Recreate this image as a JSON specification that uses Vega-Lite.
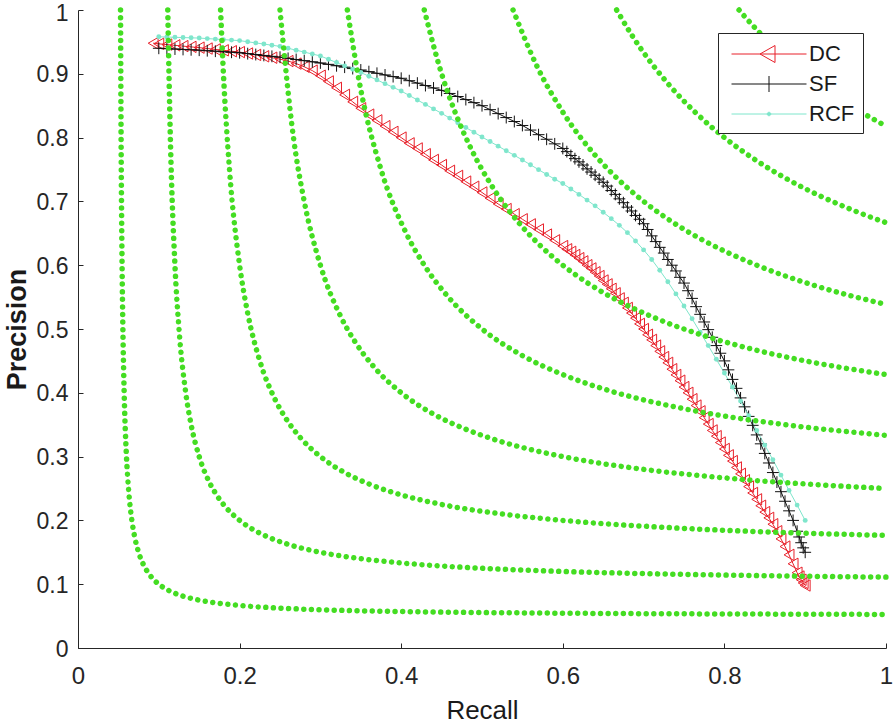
{
"$schema":"https://vega.github.io/schema/vega-lite/v6.json",
"width":808,"height":638,
"autosize":{"type":"none"},
"padding":{"left":78,"top":10,"right":7,"bottom":75},
"background":"white",
"config":{"view":{"stroke":null},"font":"Liberation Sans"},
"datasets":{
"pr":[
{"m":"DC","r":0.093,"p":0.948},{"m":"DC","r":0.10,"p":0.947},{"m":"DC","r":0.11,"p":0.9458},{"m":"DC","r":0.12,"p":0.9446},{"m":"DC","r":0.13,"p":0.9434},{"m":"DC","r":0.14,"p":0.9422},
{"m":"DC","r":0.15,"p":0.941},{"m":"DC","r":0.16,"p":0.9396},{"m":"DC","r":0.17,"p":0.9382},{"m":"DC","r":0.18,"p":0.9368},{"m":"DC","r":0.19,"p":0.9354},
{"m":"DC","r":0.20,"p":0.934},{"m":"DC","r":0.21,"p":0.9318},{"m":"DC","r":0.22,"p":0.9296},{"m":"DC","r":0.23,"p":0.9274},{"m":"DC","r":0.24,"p":0.9252},
{"m":"DC","r":0.25,"p":0.923},{"m":"DC","r":0.26,"p":0.92},{"m":"DC","r":0.27,"p":0.916},{"m":"DC","r":0.28,"p":0.911},{"m":"DC","r":0.29,"p":0.905},
{"m":"DC","r":0.30,"p":0.897},{"m":"DC","r":0.31,"p":0.888},{"m":"DC","r":0.32,"p":0.878},{"m":"DC","r":0.33,"p":0.867},{"m":"DC","r":0.34,"p":0.856},
{"m":"DC","r":0.35,"p":0.846},{"m":"DC","r":0.36,"p":0.836},{"m":"DC","r":0.37,"p":0.827},{"m":"DC","r":0.38,"p":0.818},{"m":"DC","r":0.39,"p":0.809},
{"m":"DC","r":0.40,"p":0.8},{"m":"DC","r":0.41,"p":0.791},{"m":"DC","r":0.42,"p":0.783},{"m":"DC","r":0.43,"p":0.774},{"m":"DC","r":0.44,"p":0.765},
{"m":"DC","r":0.45,"p":0.757},{"m":"DC","r":0.46,"p":0.748},{"m":"DC","r":0.47,"p":0.74},{"m":"DC","r":0.48,"p":0.731},{"m":"DC","r":0.49,"p":0.723},
{"m":"DC","r":0.50,"p":0.714},{"m":"DC","r":0.51,"p":0.705},{"m":"DC","r":0.52,"p":0.696},{"m":"DC","r":0.53,"p":0.688},{"m":"DC","r":0.54,"p":0.68},
{"m":"DC","r":0.55,"p":0.672},{"m":"DC","r":0.56,"p":0.664},{"m":"DC","r":0.57,"p":0.656},{"m":"DC","r":0.58,"p":0.648},{"m":"DC","r":0.59,"p":0.639},
{"m":"DC","r":0.60,"p":0.63},{"m":"DC","r":0.605,"p":0.625},{"m":"DC","r":0.61,"p":0.621},{"m":"DC","r":0.615,"p":0.616},{"m":"DC","r":0.62,"p":0.611},{"m":"DC","r":0.625,"p":0.606},{"m":"DC","r":0.63,"p":0.6},{"m":"DC","r":0.635,"p":0.595},{"m":"DC","r":0.64,"p":0.589},{"m":"DC","r":0.645,"p":0.583},{"m":"DC","r":0.65,"p":0.576},
{"m":"DC","r":0.655,"p":0.57},{"m":"DC","r":0.66,"p":0.563},{"m":"DC","r":0.665,"p":0.556},{"m":"DC","r":0.67,"p":0.548},{"m":"DC","r":0.675,"p":0.541},{"m":"DC","r":0.68,"p":0.533},{"m":"DC","r":0.685,"p":0.525},{"m":"DC","r":0.69,"p":0.517},{"m":"DC","r":0.695,"p":0.508},{"m":"DC","r":0.70,"p":0.5},
{"m":"DC","r":0.705,"p":0.491},{"m":"DC","r":0.71,"p":0.483},{"m":"DC","r":0.715,"p":0.474},{"m":"DC","r":0.72,"p":0.465},{"m":"DC","r":0.725,"p":0.456},{"m":"DC","r":0.73,"p":0.447},{"m":"DC","r":0.735,"p":0.437},{"m":"DC","r":0.74,"p":0.428},{"m":"DC","r":0.745,"p":0.419},{"m":"DC","r":0.75,"p":0.409},
{"m":"DC","r":0.755,"p":0.4},{"m":"DC","r":0.76,"p":0.39},{"m":"DC","r":0.765,"p":0.38},{"m":"DC","r":0.77,"p":0.371},{"m":"DC","r":0.775,"p":0.361},{"m":"DC","r":0.78,"p":0.351},{"m":"DC","r":0.785,"p":0.341},{"m":"DC","r":0.79,"p":0.332},{"m":"DC","r":0.795,"p":0.322},{"m":"DC","r":0.80,"p":0.312},
{"m":"DC","r":0.805,"p":0.302},{"m":"DC","r":0.81,"p":0.293},{"m":"DC","r":0.815,"p":0.283},{"m":"DC","r":0.82,"p":0.273},{"m":"DC","r":0.825,"p":0.263},{"m":"DC","r":0.83,"p":0.253},{"m":"DC","r":0.835,"p":0.243},{"m":"DC","r":0.84,"p":0.233},{"m":"DC","r":0.845,"p":0.223},{"m":"DC","r":0.85,"p":0.213},
{"m":"DC","r":0.855,"p":0.204},{"m":"DC","r":0.86,"p":0.194},{"m":"DC","r":0.865,"p":0.183},{"m":"DC","r":0.87,"p":0.171},{"m":"DC","r":0.875,"p":0.159},{"m":"DC","r":0.88,"p":0.146},{"m":"DC","r":0.885,"p":0.132},{"m":"DC","r":0.89,"p":0.118},{"m":"DC","r":0.8925,"p":0.112},{"m":"DC","r":0.895,"p":0.107},{"m":"DC","r":0.8975,"p":0.102},{"m":"DC","r":0.90,"p":0.098},
{"m":"SF","r":0.10,"p":0.94},{"m":"SF","r":0.11,"p":0.9394},{"m":"SF","r":0.12,"p":0.9388},{"m":"SF","r":0.13,"p":0.9382},{"m":"SF","r":0.14,"p":0.9376},
{"m":"SF","r":0.15,"p":0.937},{"m":"SF","r":0.16,"p":0.9362},{"m":"SF","r":0.17,"p":0.9354},{"m":"SF","r":0.18,"p":0.9346},{"m":"SF","r":0.19,"p":0.9338},
{"m":"SF","r":0.20,"p":0.933},{"m":"SF","r":0.21,"p":0.9316},{"m":"SF","r":0.22,"p":0.9302},{"m":"SF","r":0.23,"p":0.9288},{"m":"SF","r":0.24,"p":0.9274},
{"m":"SF","r":0.25,"p":0.926},{"m":"SF","r":0.26,"p":0.9242},{"m":"SF","r":0.27,"p":0.9224},{"m":"SF","r":0.28,"p":0.9206},{"m":"SF","r":0.29,"p":0.9188},
{"m":"SF","r":0.30,"p":0.917},{"m":"SF","r":0.31,"p":0.9148},{"m":"SF","r":0.32,"p":0.9126},{"m":"SF","r":0.33,"p":0.9104},{"m":"SF","r":0.34,"p":0.9082},
{"m":"SF","r":0.35,"p":0.906},{"m":"SF","r":0.36,"p":0.9034},{"m":"SF","r":0.37,"p":0.9008},{"m":"SF","r":0.38,"p":0.8982},{"m":"SF","r":0.39,"p":0.8956},
{"m":"SF","r":0.40,"p":0.893},{"m":"SF","r":0.41,"p":0.8892},{"m":"SF","r":0.42,"p":0.8854},{"m":"SF","r":0.43,"p":0.8816},{"m":"SF","r":0.44,"p":0.8778},
{"m":"SF","r":0.45,"p":0.874},{"m":"SF","r":0.46,"p":0.8692},{"m":"SF","r":0.47,"p":0.8644},{"m":"SF","r":0.48,"p":0.8596},{"m":"SF","r":0.49,"p":0.8548},
{"m":"SF","r":0.50,"p":0.85},{"m":"SF","r":0.51,"p":0.8438},{"m":"SF","r":0.52,"p":0.8376},{"m":"SF","r":0.53,"p":0.8314},{"m":"SF","r":0.54,"p":0.8252},
{"m":"SF","r":0.55,"p":0.819},{"m":"SF","r":0.56,"p":0.8118},{"m":"SF","r":0.57,"p":0.8046},{"m":"SF","r":0.58,"p":0.7974},{"m":"SF","r":0.59,"p":0.7902},
{"m":"SF","r":0.60,"p":0.783},{"m":"SF","r":0.605,"p":0.778},{"m":"SF","r":0.61,"p":0.772},{"m":"SF","r":0.615,"p":0.767},{"m":"SF","r":0.62,"p":0.762},{"m":"SF","r":0.625,"p":0.757},{"m":"SF","r":0.63,"p":0.751},{"m":"SF","r":0.635,"p":0.746},{"m":"SF","r":0.64,"p":0.741},{"m":"SF","r":0.645,"p":0.735},{"m":"SF","r":0.65,"p":0.73},
{"m":"SF","r":0.655,"p":0.724},{"m":"SF","r":0.66,"p":0.717},{"m":"SF","r":0.665,"p":0.711},{"m":"SF","r":0.67,"p":0.704},{"m":"SF","r":0.675,"p":0.698},{"m":"SF","r":0.68,"p":0.691},{"m":"SF","r":0.685,"p":0.685},{"m":"SF","r":0.69,"p":0.678},{"m":"SF","r":0.695,"p":0.672},{"m":"SF","r":0.70,"p":0.665},
{"m":"SF","r":0.705,"p":0.656},{"m":"SF","r":0.71,"p":0.646},{"m":"SF","r":0.715,"p":0.637},{"m":"SF","r":0.72,"p":0.628},{"m":"SF","r":0.725,"p":0.619},{"m":"SF","r":0.73,"p":0.609},{"m":"SF","r":0.735,"p":0.6},{"m":"SF","r":0.74,"p":0.591},{"m":"SF","r":0.745,"p":0.581},{"m":"SF","r":0.75,"p":0.572},
{"m":"SF","r":0.755,"p":0.56},{"m":"SF","r":0.76,"p":0.548},{"m":"SF","r":0.765,"p":0.535},{"m":"SF","r":0.77,"p":0.523},{"m":"SF","r":0.775,"p":0.511},{"m":"SF","r":0.78,"p":0.499},{"m":"SF","r":0.785,"p":0.487},{"m":"SF","r":0.79,"p":0.474},{"m":"SF","r":0.795,"p":0.462},{"m":"SF","r":0.80,"p":0.45},
{"m":"SF","r":0.805,"p":0.436},{"m":"SF","r":0.81,"p":0.421},{"m":"SF","r":0.815,"p":0.407},{"m":"SF","r":0.82,"p":0.392},{"m":"SF","r":0.825,"p":0.378},{"m":"SF","r":0.83,"p":0.363},{"m":"SF","r":0.835,"p":0.349},{"m":"SF","r":0.84,"p":0.334},{"m":"SF","r":0.845,"p":0.32},{"m":"SF","r":0.85,"p":0.305},
{"m":"SF","r":0.855,"p":0.29},{"m":"SF","r":0.86,"p":0.275},{"m":"SF","r":0.865,"p":0.26},{"m":"SF","r":0.87,"p":0.245},{"m":"SF","r":0.875,"p":0.23},{"m":"SF","r":0.88,"p":0.215},{"m":"SF","r":0.885,"p":0.2},{"m":"SF","r":0.89,"p":0.183},{"m":"SF","r":0.8925,"p":0.174},{"m":"SF","r":0.895,"p":0.165},{"m":"SF","r":0.8975,"p":0.157},{"m":"SF","r":0.90,"p":0.15},
{"m":"RCF","r":0.10,"p":0.958},{"m":"RCF","r":0.11,"p":0.9576},{"m":"RCF","r":0.12,"p":0.9572},{"m":"RCF","r":0.13,"p":0.9568},{"m":"RCF","r":0.14,"p":0.9564},
{"m":"RCF","r":0.15,"p":0.956},{"m":"RCF","r":0.16,"p":0.9552},{"m":"RCF","r":0.17,"p":0.9544},{"m":"RCF","r":0.18,"p":0.9536},{"m":"RCF","r":0.19,"p":0.9528},
{"m":"RCF","r":0.20,"p":0.952},{"m":"RCF","r":0.21,"p":0.9502},{"m":"RCF","r":0.22,"p":0.9484},{"m":"RCF","r":0.23,"p":0.9466},{"m":"RCF","r":0.24,"p":0.9448},
{"m":"RCF","r":0.25,"p":0.943},{"m":"RCF","r":0.26,"p":0.94},{"m":"RCF","r":0.27,"p":0.937},{"m":"RCF","r":0.28,"p":0.934},{"m":"RCF","r":0.29,"p":0.931},
{"m":"RCF","r":0.30,"p":0.928},{"m":"RCF","r":0.31,"p":0.9228},{"m":"RCF","r":0.32,"p":0.9176},{"m":"RCF","r":0.33,"p":0.9124},{"m":"RCF","r":0.34,"p":0.9072},
{"m":"RCF","r":0.35,"p":0.902},{"m":"RCF","r":0.36,"p":0.8962},{"m":"RCF","r":0.37,"p":0.8904},{"m":"RCF","r":0.38,"p":0.8846},{"m":"RCF","r":0.39,"p":0.8788},
{"m":"RCF","r":0.40,"p":0.873},{"m":"RCF","r":0.41,"p":0.866},{"m":"RCF","r":0.42,"p":0.859},{"m":"RCF","r":0.43,"p":0.852},{"m":"RCF","r":0.44,"p":0.845},
{"m":"RCF","r":0.45,"p":0.838},{"m":"RCF","r":0.46,"p":0.8306},{"m":"RCF","r":0.47,"p":0.8232},{"m":"RCF","r":0.48,"p":0.8158},{"m":"RCF","r":0.49,"p":0.8084},
{"m":"RCF","r":0.50,"p":0.801},{"m":"RCF","r":0.51,"p":0.7938},{"m":"RCF","r":0.52,"p":0.7866},{"m":"RCF","r":0.53,"p":0.7794},{"m":"RCF","r":0.54,"p":0.7722},
{"m":"RCF","r":0.55,"p":0.765},{"m":"RCF","r":0.56,"p":0.7574},{"m":"RCF","r":0.57,"p":0.7498},{"m":"RCF","r":0.58,"p":0.7422},{"m":"RCF","r":0.59,"p":0.7348},
{"m":"RCF","r":0.60,"p":0.728},{"m":"RCF","r":0.61,"p":0.7195},{"m":"RCF","r":0.62,"p":0.711},{"m":"RCF","r":0.63,"p":0.702},{"m":"RCF","r":0.64,"p":0.693},
{"m":"RCF","r":0.65,"p":0.683},{"m":"RCF","r":0.66,"p":0.673},{"m":"RCF","r":0.67,"p":0.6625},{"m":"RCF","r":0.68,"p":0.651},{"m":"RCF","r":0.69,"p":0.638},
{"m":"RCF","r":0.70,"p":0.624},{"m":"RCF","r":0.71,"p":0.609},{"m":"RCF","r":0.72,"p":0.592},{"m":"RCF","r":0.73,"p":0.574},{"m":"RCF","r":0.74,"p":0.555},
{"m":"RCF","r":0.75,"p":0.536},{"m":"RCF","r":0.76,"p":0.516},{"m":"RCF","r":0.77,"p":0.495},{"m":"RCF","r":0.78,"p":0.474},{"m":"RCF","r":0.79,"p":0.4525},
{"m":"RCF","r":0.80,"p":0.431},{"m":"RCF","r":0.81,"p":0.409},{"m":"RCF","r":0.82,"p":0.387},{"m":"RCF","r":0.83,"p":0.364},{"m":"RCF","r":0.84,"p":0.341},
{"m":"RCF","r":0.85,"p":0.318},{"m":"RCF","r":0.86,"p":0.295},{"m":"RCF","r":0.87,"p":0.271},{"m":"RCF","r":0.88,"p":0.247},{"m":"RCF","r":0.89,"p":0.224},{"m":"RCF","r":0.90,"p":0.2}
],
"iso":[
{"f":0.1,"r":0.05263,"p":1},{"f":0.1,"r":0.05333,"p":0.8},{"f":0.1,"r":0.05455,"p":0.6},{"f":0.1,"r":0.05556,"p":0.5},{"f":0.1,"r":0.05714,"p":0.4},{"f":0.1,"r":0.06,"p":0.3},{"f":0.1,"r":0.0625,"p":0.25},{"f":0.1,"r":0.06667,"p":0.2},{"f":0.1,"r":0.07,"p":0.175},{"f":0.1,"r":0.075,"p":0.15},{"f":0.1,"r":0.08125,"p":0.13},{"f":0.1,"r":0.08571,"p":0.12},{"f":0.1,"r":0.09167,"p":0.11},{"f":0.1,"r":0.09545,"p":0.105},{"f":0.1,"r":0.1,"p":0.1},{"f":0.1,"r":0.105,"p":0.09545},{"f":0.1,"r":0.11,"p":0.09167},{"f":0.1,"r":0.12,"p":0.08571},{"f":0.1,"r":0.13,"p":0.08125},{"f":0.1,"r":0.15,"p":0.075},{"f":0.1,"r":0.175,"p":0.07},{"f":0.1,"r":0.2,"p":0.06667},{"f":0.1,"r":0.25,"p":0.0625},{"f":0.1,"r":0.3,"p":0.06},{"f":0.1,"r":0.4,"p":0.05714},{"f":0.1,"r":0.5,"p":0.05556},{"f":0.1,"r":0.6,"p":0.05455},{"f":0.1,"r":0.8,"p":0.05333},{"f":0.1,"r":1,"p":0.05263},
{"f":0.2,"r":0.11111,"p":1},{"f":0.2,"r":0.11429,"p":0.8},{"f":0.2,"r":0.12,"p":0.6},{"f":0.2,"r":0.125,"p":0.5},{"f":0.2,"r":0.13333,"p":0.4},{"f":0.2,"r":0.14,"p":0.35},{"f":0.2,"r":0.15,"p":0.3},{"f":0.2,"r":0.1625,"p":0.26},{"f":0.2,"r":0.17143,"p":0.24},{"f":0.2,"r":0.18333,"p":0.22},{"f":0.2,"r":0.2,"p":0.2},{"f":0.2,"r":0.22,"p":0.18333},{"f":0.2,"r":0.24,"p":0.17143},{"f":0.2,"r":0.26,"p":0.1625},{"f":0.2,"r":0.3,"p":0.15},{"f":0.2,"r":0.35,"p":0.14},{"f":0.2,"r":0.4,"p":0.13333},{"f":0.2,"r":0.5,"p":0.125},{"f":0.2,"r":0.6,"p":0.12},{"f":0.2,"r":0.8,"p":0.11429},{"f":0.2,"r":1,"p":0.11111},
{"f":0.3,"r":0.17647,"p":1},{"f":0.3,"r":0.18,"p":0.9},{"f":0.3,"r":0.1875,"p":0.75},{"f":0.3,"r":0.2,"p":0.6},{"f":0.3,"r":0.21,"p":0.525},{"f":0.3,"r":0.225,"p":0.45},{"f":0.3,"r":0.24375,"p":0.39},{"f":0.3,"r":0.25714,"p":0.36},{"f":0.3,"r":0.275,"p":0.33},{"f":0.3,"r":0.3,"p":0.3},{"f":0.3,"r":0.33,"p":0.275},{"f":0.3,"r":0.36,"p":0.25714},{"f":0.3,"r":0.39,"p":0.24375},{"f":0.3,"r":0.45,"p":0.225},{"f":0.3,"r":0.525,"p":0.21},{"f":0.3,"r":0.6,"p":0.2},{"f":0.3,"r":0.75,"p":0.1875},{"f":0.3,"r":0.9,"p":0.18},{"f":0.3,"r":1,"p":0.17647},
{"f":0.4,"r":0.25,"p":1},{"f":0.4,"r":0.26667,"p":0.8},{"f":0.4,"r":0.28,"p":0.7},{"f":0.4,"r":0.3,"p":0.6},{"f":0.4,"r":0.325,"p":0.52},{"f":0.4,"r":0.34286,"p":0.48},{"f":0.4,"r":0.36667,"p":0.44},{"f":0.4,"r":0.4,"p":0.4},{"f":0.4,"r":0.44,"p":0.36667},{"f":0.4,"r":0.48,"p":0.34286},{"f":0.4,"r":0.52,"p":0.325},{"f":0.4,"r":0.6,"p":0.3},{"f":0.4,"r":0.7,"p":0.28},{"f":0.4,"r":0.8,"p":0.26667},{"f":0.4,"r":1,"p":0.25},
{"f":0.5,"r":0.33333,"p":1},{"f":0.5,"r":0.35,"p":0.875},{"f":0.5,"r":0.375,"p":0.75},{"f":0.5,"r":0.40625,"p":0.65},{"f":0.5,"r":0.42857,"p":0.6},{"f":0.5,"r":0.45833,"p":0.55},{"f":0.5,"r":0.5,"p":0.5},{"f":0.5,"r":0.55,"p":0.45833},{"f":0.5,"r":0.6,"p":0.42857},{"f":0.5,"r":0.65,"p":0.40625},{"f":0.5,"r":0.75,"p":0.375},{"f":0.5,"r":0.875,"p":0.35},{"f":0.5,"r":1,"p":0.33333},
{"f":0.6,"r":0.42857,"p":1},{"f":0.6,"r":0.45,"p":0.9},{"f":0.6,"r":0.46667,"p":0.84},{"f":0.6,"r":0.4875,"p":0.78},{"f":0.6,"r":0.51429,"p":0.72},{"f":0.6,"r":0.55,"p":0.66},{"f":0.6,"r":0.57273,"p":0.63},{"f":0.6,"r":0.6,"p":0.6},{"f":0.6,"r":0.63,"p":0.57273},{"f":0.6,"r":0.66,"p":0.55},{"f":0.6,"r":0.72,"p":0.51429},{"f":0.6,"r":0.78,"p":0.4875},{"f":0.6,"r":0.84,"p":0.46667},{"f":0.6,"r":0.9,"p":0.45},{"f":0.6,"r":1,"p":0.42857},
{"f":0.7,"r":0.53846,"p":1},{"f":0.7,"r":0.56875,"p":0.91},{"f":0.7,"r":0.6,"p":0.84},{"f":0.7,"r":0.64167,"p":0.77},{"f":0.7,"r":0.66818,"p":0.735},{"f":0.7,"r":0.7,"p":0.7},{"f":0.7,"r":0.735,"p":0.66818},{"f":0.7,"r":0.77,"p":0.64167},{"f":0.7,"r":0.84,"p":0.6},{"f":0.7,"r":0.91,"p":0.56875},{"f":0.7,"r":1,"p":0.53846},
{"f":0.8,"r":0.66667,"p":1},{"f":0.8,"r":0.68571,"p":0.96},{"f":0.8,"r":0.73333,"p":0.88},{"f":0.8,"r":0.76364,"p":0.84},{"f":0.8,"r":0.8,"p":0.8},{"f":0.8,"r":0.84,"p":0.76364},{"f":0.8,"r":0.88,"p":0.73333},{"f":0.8,"r":0.96,"p":0.68571},{"f":0.8,"r":1,"p":0.66667},
{"f":0.9,"r":0.81818,"p":1},{"f":0.9,"r":0.825,"p":0.99},{"f":0.9,"r":0.85909,"p":0.945},{"f":0.9,"r":0.88269,"p":0.918},{"f":0.9,"r":0.9,"p":0.9},{"f":0.9,"r":0.918,"p":0.88269},{"f":0.9,"r":0.945,"p":0.85909},{"f":0.9,"r":0.99,"p":0.825},{"f":0.9,"r":1,"p":0.81818}
]
},
"layer":[
{"data":{"name":"pr"},
 "mark":{"type":"line"},
 "encoding":{
  "x":{"field":"r","type":"quantitative","scale":{"domain":[0,1],"nice":false,"zero":false},
       "axis":{"values":[0,0.2,0.4,0.6,0.8,1],"format":"~g","grid":false,"tickSize":-5,"labelFlush":false,"labelPadding":21,
               "domainColor":"#262626","tickColor":"#262626","labelColor":"#262626","labelFontSize":24,"labelFont":"Liberation Sans",
               "title":"Recall","titleFont":"Liberation Sans","titleFontSize":26,"titleFontWeight":"normal","titleColor":"#1a1a1a","titlePadding":9}},
  "y":{"field":"p","type":"quantitative","scale":{"domain":[0,1],"nice":false,"zero":false},
       "axis":{"values":[0,0.1,0.2,0.3,0.4,0.5,0.6,0.7,0.8,0.9,1],"format":"~g","grid":false,"tickSize":-5,"labelFlush":false,"labelPadding":15,
               "labelOffset":{"condition":{"test":"datum.value === 1","value":3.5},"value":1},
               "domainColor":"#262626","tickColor":"#262626","labelColor":"#262626","labelFontSize":23,"labelFont":"Liberation Sans",
               "title":"Precision","titleFont":"Liberation Sans","titleFontSize":27,"titleFontWeight":"bold","titleColor":"#1a1a1a","titlePadding":5}},
  "color":{"field":"m","type":"nominal","scale":{"domain":["DC","SF","RCF"],"range":["#e8202a","#111111","#7fe6cc"]},
       "legend":{"title":null,"orient":"top-right","offset":23,"padding":8,"strokeColor":"#262626","fillColor":"white",
                 "labelFont":"Liberation Sans","labelFontSize":22,"labelColor":"#1a1a1a","symbolSize":100,"symbolOffset":32,"labelOffset":29,"rowPadding":6,
                 "encode":{"labels":{"update":{"dy":{"value":2}}},
                   "symbols":{"update":{
                   "shape":{"signal":"datum.value==='DC' ? 'M-7.5,0.4H7.5M1.2,-1.3L-1.8,0.4L1.2,2.1Z' : (datum.value==='SF' ? 'M-7.5,0.4H7.5M0,-1.2V2' : 'M-7.5,0.4H7.5M0.35,0.4A0.35,0.35,0,1,1,-0.35,0.4A0.35,0.35,0,1,1,0.35,0.4Z')"},
                   "fill":{"signal":"datum.value==='RCF' ? '#7fe6cc' : 'transparent'"},
                   "strokeWidth":{"signal":"datum.value==='RCF' ? 2 : 1"}}}}}},
  "strokeWidth":{"field":"m","type":"nominal","scale":{"domain":["DC","SF","RCF"],"range":[1,1,4]},"legend":null}
 }},
{"data":{"name":"pr"},"transform":[{"filter":"datum.m==='DC'"}],
 "mark":{"type":"point","shape":"triangle-left","filled":false,"color":"#e8202a","size":130,"strokeWidth":1,"opacity":1},
 "encoding":{"x":{"field":"r","type":"quantitative"},"y":{"field":"p","type":"quantitative"}}},
{"data":{"name":"pr"},"transform":[{"filter":"datum.m==='SF'"}],
 "mark":{"type":"point","shape":"M-1,0H1M0,-1V1","filled":false,"color":"#111111","size":140,"strokeWidth":1,"opacity":1},
 "encoding":{"x":{"field":"r","type":"quantitative"},"y":{"field":"p","type":"quantitative"}}},
{"data":{"name":"pr"},"transform":[{"filter":"datum.m==='RCF'"}],
 "mark":{"type":"point","shape":"circle","filled":true,"color":"#7fe6cc","size":24,"opacity":1},
 "encoding":{"x":{"field":"r","type":"quantitative"},"y":{"field":"p","type":"quantitative"}}},
{"data":{"name":"iso"},
 "mark":{"type":"line","interpolate":"monotone","color":"#44dd22","strokeWidth":5.5,"strokeCap":"round","strokeDash":[0.01,7.6]},
 "encoding":{"x":{"field":"r","type":"quantitative"},"y":{"field":"p","type":"quantitative"},"detail":{"field":"f","type":"nominal"}}}
]
}
